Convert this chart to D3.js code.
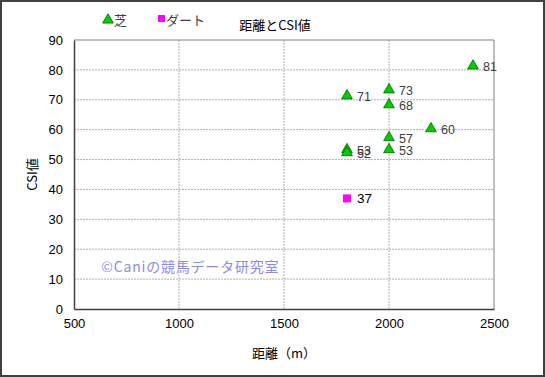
<!DOCTYPE html>
<html>
<head>
<meta charset="utf-8">
<script src="https://cdn.jsdelivr.net/npm/d3@7"></script>
<style>
  body { margin: 0; background: #fff; }
  text { font-family: "Noto Sans CJK JP", "DejaVu Sans", sans-serif; }
</style>
</head>
<body>
<script>
// data
const turfDist = [2400, 1800, 2000, 2000, 2200, 2000, 2000, 1800, 1800];
const turfCsi  = [81, 71, 73, 68, 60, 57, 53, 53, 52];
const dirtDist = [1800];
const dirtCsi  = [37];
const xTicks = [500, 1000, 1500, 2000, 2500];
const yTicks = [0, 10, 20, 30, 40, 50, 60, 70, 80, 90];

const W = 545, H = 377;
const margin = {top: 40, right: 51, bottom: 68, left: 74},
    width = W - margin.left - margin.right,
    height = H - margin.top - margin.bottom;

const root = d3.select("body").append("svg")
    .attr("width", W).attr("height", H);

// outer frame
root.append("rect")
    .attr("x", 1).attr("y", 1).attr("width", W - 2).attr("height", H - 2)
    .attr("fill", "#fff").attr("stroke", "#404040").attr("stroke-width", 2);

const svg = root.append("g")
    .attr("transform", `translate(${margin.left},${margin.top})`);

const x = d3.scaleLinear().domain([500, 2500]).range([0, width]);
const y = d3.scaleLinear().domain([0, 90]).range([height, 0]);

// grid
svg.append("g").selectAll("line").data(yTicks.slice(1, -1)).join("line")
    .attr("x1", 0).attr("x2", width)
    .attr("y1", d => y(d)).attr("y2", d => y(d))
    .attr("stroke", "#b0b0b0").attr("stroke-dasharray", "2,1");
svg.append("g").selectAll("line").data(xTicks.slice(1, -1)).join("line")
    .attr("y1", 0).attr("y2", height)
    .attr("x1", d => x(d)).attr("x2", d => x(d))
    .attr("stroke", "#b0b0b0").attr("stroke-dasharray", "2,1");

// plot frame
svg.append("line").attr("x1", 0).attr("x2", width).attr("y1", 0).attr("y2", 0)
    .attr("stroke", "#808080");
svg.append("line").attr("x1", width).attr("x2", width).attr("y1", 0).attr("y2", height)
    .attr("stroke", "#808080");

// axes
const xAxis = svg.append("g")
    .attr("transform", `translate(0,${height})`)
    .call(d3.axisBottom(x).tickValues(xTicks).tickFormat(d3.format("d")).tickSize(0).tickPadding(10));
const yAxis = svg.append("g")
    .call(d3.axisLeft(y).tickValues(yTicks).tickSize(0).tickPadding(11));
[xAxis, yAxis].forEach(a => {
    a.select(".domain").attr("stroke", "#404040").attr("stroke-width", 1.5);
    a.selectAll("text").attr("font-size", 13).attr("fill", "#000")
        .style("font-family", "Arial, 'Liberation Sans', sans-serif");
});

// watermark
svg.append("text")
    .attr("x", x(630)).attr("y", y(12.5))
    .attr("font-size", 14).attr("letter-spacing", 0.8).attr("fill", "#8c8ce8")
    .text("©Caniの競馬データ研究室");

// turf points
const turf = turfDist.map((d, i) => ({dist: d, csi: turfCsi[i]}));
const tri = d3.symbol().type(d3.symbolTriangle).size(50);
svg.append("g").selectAll("path").data(turf).join("path")
    .attr("d", tri)
    .attr("transform", d => `translate(${x(d.dist)},${y(d.csi) - 1})`)
    .attr("fill", "#00d000").attr("stroke", "#006000").attr("stroke-width", 0.8);
svg.append("g").selectAll("text").data(turf).join("text")
    .attr("x", d => x(d.dist) + 10).attr("y", d => y(d.csi) + 4)
    .attr("font-size", 12.5).attr("fill", "#404040")
    .style("font-family", "Arial, 'Liberation Sans', sans-serif")
    .text(d => d.csi);

// dirt points
const dirt = dirtDist.map((d, i) => ({dist: d, csi: dirtCsi[i]}));
svg.append("g").selectAll("rect").data(dirt).join("rect")
    .attr("x", d => x(d.dist) - 4).attr("y", d => y(d.csi) - 4)
    .attr("width", 8).attr("height", 8)
    .attr("fill", "#ff00ff");
svg.append("g").selectAll("text").data(dirt).join("text")
    .attr("x", d => x(d.dist) + 10).attr("y", d => y(d.csi) + 5)
    .attr("font-size", 13.5).attr("fill", "#000")
    .style("font-family", "Arial, 'Liberation Sans', sans-serif")
    .text(d => d.csi);

// titles
root.append("text").attr("x", 275).attr("y", 30).attr("text-anchor", "middle")
    .attr("font-size", 13).attr("fill", "#000").text("距離とCSI値");
root.append("text").attr("x", margin.left + width / 2).attr("y", 358)
    .attr("text-anchor", "middle").attr("font-size", 13).attr("fill", "#000")
    .text("距離（m）");
root.append("text")
    .attr("transform", `translate(37,${margin.top + height / 2}) rotate(-90)`)
    .attr("text-anchor", "middle").attr("font-size", 13).attr("fill", "#000")
    .text("CSI値");

// legend
const leg = root.append("g");
leg.append("path").attr("d", tri)
    .attr("transform", "translate(108,20)")
    .attr("fill", "#00d000").attr("stroke", "#006000").attr("stroke-width", 0.8);
leg.append("text").attr("x", 114).attr("y", 25).attr("font-size", 13)
    .attr("fill", "#404040").text("芝");
leg.append("rect").attr("x", 158).attr("y", 15).attr("width", 7).attr("height", 7)
    .attr("fill", "#ff00ff");
leg.append("text").attr("x", 166).attr("y", 25).attr("font-size", 13)
    .attr("fill", "#404040").text("ダート");
</script>
</body>
</html>
